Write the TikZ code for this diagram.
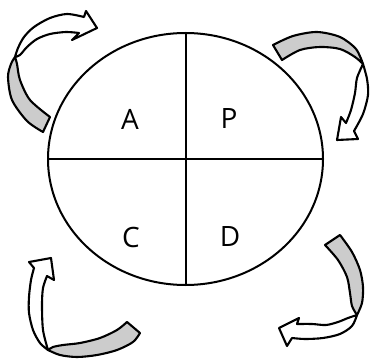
\documentclass[tikz,border=0pt]{standalone}
\usepackage{fontspec}
\setmainfont{Open Sans}
\usepackage{tikz}
\usetikzlibrary{positioning,shapes.geometric}

\tikzset{
  ringline/.style={line width=2pt},
  backband/.style={draw, line width=2.1pt, line join=round, fill=black!20},
  frontband/.style={draw, line width=2.1pt, line join=round, fill=white},
  letter/.style={font=\fontsize{28}{30}\selectfont, inner sep=0pt}
}

\begin{document}
\begin{tikzpicture}[x=1pt, y=-1pt]
        \useasboundingbox (0,0) rectangle (374,358);

        % the wheel
        \node (cycle) [ellipse, draw, ringline, minimum width=275pt, minimum height=252pt, inner sep=0pt] at (185.5,159) {};
        \foreach \i/\j in {cycle.north/cycle.south, cycle.west/cycle.east} {
            \draw[ringline] (\i) -- (\j);
        }

        \node (A) [letter] at (130,119) {A};
        \node (P) [letter] at (229,119) {P};
        \node (C) [letter] at (131,237) {C};
        \node (D) [letter] at (230,237) {D};

        % top left arrow
        \filldraw[backband] plot[smooth] coordinates {(43,132) (27,121) (12,100) (8,77) (11,64) (15,57)}
            -- plot[smooth] coordinates {(15,57) (17,64) (20,80) (30,100) (50,117)} -- cycle;
        \filldraw[frontband] plot[smooth] coordinates {(15,57) (18,48) (24,37) (34,27) (50,18) (67,14) (84,17)}
            -- (86,11) -- (97,28) -- (72,40) -- (79,33)
            -- plot[smooth] coordinates {(79,33) (66,32) (50,34) (37,39) (27,47) (20,55) (15,57)} -- cycle;

        % top right arrow
        \filldraw[backband] plot[smooth] coordinates {(273,45) (293,36) (317,32) (340,37) (356,49) (363,64)}
            -- plot[smooth] coordinates {(363,64) (355,57) (340,49) (320,47) (300,50) (282,60)} -- cycle;
        \filldraw[frontband] plot[smooth] coordinates {(363,64) (367,79) (368,95) (363,114) (354,131)}
            -- (358,139) -- (337,140) -- (341,117) -- (346,123)
            -- plot[smooth] coordinates {(346,123) (351,110) (355,93) (357,78) (363,64)} -- cycle;

        % bottom right arrow
        \filldraw[backband] plot[smooth] coordinates {(340,235) (352,252) (360,270) (363,287) (362,303) (357,315)}
            -- plot[smooth] coordinates {(357,315) (352,306) (350,293) (347,277) (338,260) (325,245)} -- cycle;
        \filldraw[frontband] plot[smooth] coordinates {(357,315) (352,326) (340,334) (323,338) (305,339) (292,338)}
            -- (287,346) -- (279,328) -- (299,318) -- (297,324)
            -- plot[smooth] coordinates {(297,324) (312,324) (326,325) (338,322) (348,318) (357,315)} -- cycle;

        % bottom left arrow
        \filldraw[backband] plot[smooth] coordinates {(140,333) (133,342) (117,350) (97,355) (77,357) (60,355) (48,350)}
            -- plot[smooth] coordinates {(48,350) (53,347) (63,345) (80,343) (100,338) (117,330) (127,322)} -- cycle;
        \filldraw[frontband] plot[smooth] coordinates {(48,350) (40,343) (33,330) (29,313) (29,297) (31,280) (34,268)}
            -- (29,262) -- (51,258) -- (54,280) -- (47,276)
            -- plot[smooth] coordinates {(47,276) (43,288) (42,305) (43,330) (48,350)} -- cycle;
    \end{tikzpicture}
\end{document}
